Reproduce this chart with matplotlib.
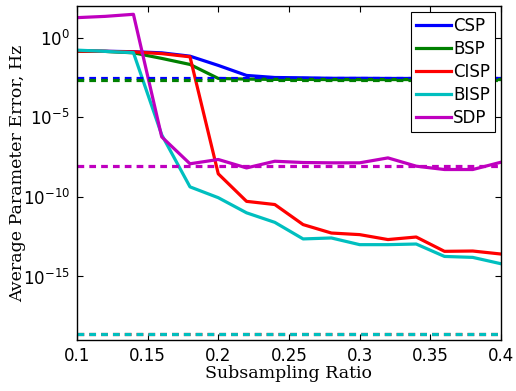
import numpy as np
import matplotlib
matplotlib.use("Agg")
import matplotlib.pyplot as plt

ratio = [0.10, 0.12, 0.14, 0.16, 0.18, 0.20, 0.22, 0.24,
         0.26, 0.28, 0.30, 0.32, 0.34, 0.36, 0.38, 0.40]

# log10 of the average parameter error
csp = [-0.84, -0.85, -0.88, -0.95, -1.16, -1.74, -2.37, -2.50,
       -2.52, -2.55, -2.55, -2.56, -2.56, -2.56, -2.56, -2.56]
bsp = [-0.84, -0.86, -0.95, -1.30, -1.68, -2.56, -2.60, -2.62,
       -2.62, -2.63, -2.63, -2.63, -2.63, -2.63, -2.63, -2.63]
cisp = [-0.84, -0.86, -0.89, -1.00, -1.20, -8.55, -10.28, -10.48,
        -11.74, -12.27, -12.37, -12.68, -12.52, -13.42, -13.40, -13.59]
bisp = [-0.78, -0.86, -0.94, -6.10, -9.37, -10.05, -11.00, -11.60,
        -12.64, -12.58, -13.00, -13.00, -12.96, -13.74, -13.80, -14.20]
sdp = [1.26, 1.34, 1.47, -6.23, -7.92, -7.65, -8.18, -7.76,
       -7.84, -7.86, -7.86, -7.55, -8.07, -8.28, -8.28, -7.82]

# dashed reference levels (log10)
csp_ref = -2.55
bsp_ref = -2.67
cisp_ref = -18.6
bisp_ref = -18.6
sdp_ref = -8.03

names = ["CSP", "BSP", "CISP", "BISP", "SDP"]
series = [csp, bsp, cisp, bisp, sdp]
refs = [csp_ref, bsp_ref, cisp_ref, bisp_ref, sdp_ref]
colors = ["#0000ff", "#008000", "#ff0000", "#00bfbf", "#bf00bf"]

plt.rcParams["font.family"] = ["DejaVu Sans"]

fig = plt.figure(figsize=(5.16, 3.91), dpi=100)
ax = fig.add_axes([0.149, 0.130, 0.822, 0.855])

for name, vals, c in zip(names, series, colors):
    ax.plot(ratio, 10.0 ** np.array(vals), "-", color=c, lw=2.3, label=name)
for ref, c in zip(refs, colors):
    ax.axhline(10.0 ** ref, color=c, lw=2.3, ls=(0, (2.1, 1.6)))

ax.set_yscale("log")
ax.set_xlim(0.1, 0.4)
ax.set_ylim(1e-19, 1e2)
ax.set_xticks([0.1, 0.15, 0.2, 0.25, 0.3, 0.35, 0.4])
ax.set_xticklabels(["0.1", "0.15", "0.2", "0.25", "0.3", "0.35", "0.4"])
ax.set_yticks([1e-15, 1e-10, 1e-5, 1e0])
ax.yaxis.set_minor_locator(matplotlib.ticker.NullLocator())
ax.tick_params(direction="in", top=True, right=True, length=4, width=0.8,
               labelsize=12, pad=5)
for s in ax.spines.values():
    s.set_linewidth(1.0)

ax.set_xlabel("Subsampling Ratio", family="DejaVu Serif", fontsize=12.5,
              labelpad=0)
ax.set_ylabel("Average Parameter Error, Hz", family="DejaVu Serif",
              fontsize=12.5, labelpad=-2)

leg = ax.legend(loc="upper right", fontsize=12, frameon=True, fancybox=False,
                framealpha=1, handlelength=2.1, handletextpad=0.15,
                labelspacing=0.3, borderpad=0.3, borderaxespad=0.35,
                edgecolor="black")
leg.get_frame().set_linewidth(0.8)

fig.savefig("out.png", dpi=100)
